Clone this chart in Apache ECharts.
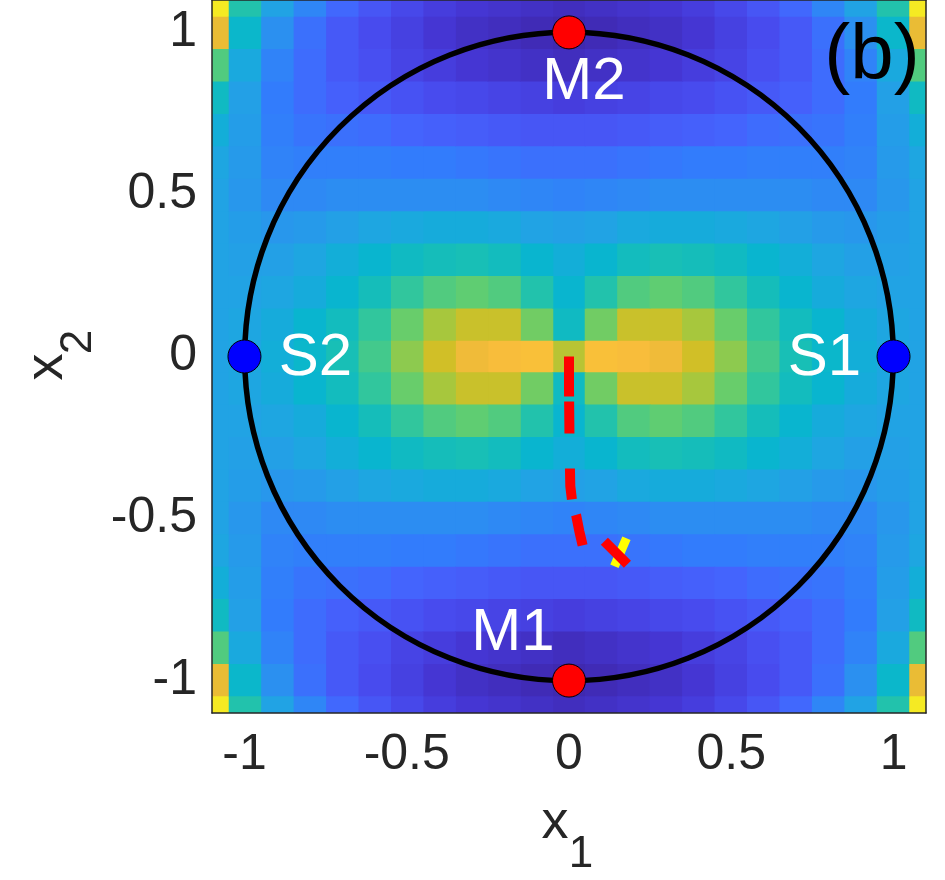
<!DOCTYPE html>
<html>
<head>
<meta charset="utf-8">
<script src="https://cdn.jsdelivr.net/npm/echarts@6/dist/echarts.min.js"></script>
<style>
html,body{margin:0;padding:0;background:#ffffff;}
#chart{width:945px;height:880px;}
</style>
</head>
<body>
<div id="chart"></div>
<script>
// ---------------- data ----------------
const xTickValues = [-1, -0.5, 0, 0.5, 1];
const yTickValues = [-1, -0.5, 0, 0.5, 1];

// sample grid of the background field (one quadrant, the picture is mirror-symmetric)
const quadX1 = [0, 0.1, 0.2, 0.3, 0.4, 0.5, 0.6, 0.7, 0.8, 0.9, 1.0, 1.1];
const quadX2 = [0, 0.1, 0.2, 0.3, 0.4, 0.5, 0.6, 0.7, 0.8, 0.9, 1.0, 1.1];
// rows: x2 = 0 ... 1.1, columns: x1 = 0 ... 1.1 (normalised colour level 0..1)
const fieldRow00 = [0.72, 0.83, 0.82, 0.80, 0.75, 0.67, 0.58, 0.50, 0.45, 0.41, 0.38, 0.37];
const fieldRow01 = [0.47, 0.64, 0.74, 0.74, 0.70, 0.63, 0.55, 0.48, 0.44, 0.40, 0.38, 0.37];
const fieldRow02 = [0.44, 0.52, 0.60, 0.62, 0.60, 0.55, 0.49, 0.44, 0.40, 0.38, 0.37, 0.37];
const fieldRow03 = [0.41, 0.44, 0.48, 0.50, 0.49, 0.47, 0.44, 0.41, 0.38, 0.36, 0.36, 0.37];
const fieldRow04 = [0.36, 0.37, 0.39, 0.40, 0.40, 0.39, 0.38, 0.36, 0.34, 0.33, 0.35, 0.37];
const fieldRow05 = [0.27, 0.28, 0.29, 0.30, 0.30, 0.30, 0.30, 0.30, 0.29, 0.29, 0.33, 0.37];
const fieldRow06 = [0.22, 0.22, 0.23, 0.24, 0.25, 0.25, 0.26, 0.26, 0.26, 0.27, 0.34, 0.38];
const fieldRow07 = [0.15, 0.15, 0.16, 0.17, 0.18, 0.19, 0.21, 0.22, 0.23, 0.26, 0.35, 0.41];
const fieldRow08 = [0.08, 0.09, 0.10, 0.11, 0.12, 0.14, 0.16, 0.18, 0.21, 0.25, 0.36, 0.47];
const fieldRow09 = [0.03, 0.04, 0.05, 0.06, 0.08, 0.10, 0.13, 0.16, 0.21, 0.27, 0.39, 0.60];
const fieldRow10 = [0.01, 0.02, 0.03, 0.04, 0.06, 0.09, 0.12, 0.16, 0.22, 0.31, 0.45, 0.79];
const fieldRow11 = [0.03, 0.04, 0.05, 0.06, 0.08, 0.11, 0.15, 0.20, 0.28, 0.37, 0.52, 0.94];
const fieldQuadrant = [fieldRow00, fieldRow01, fieldRow02, fieldRow03, fieldRow04, fieldRow05,
                       fieldRow06, fieldRow07, fieldRow08, fieldRow09, fieldRow10, fieldRow11];

const circleCenterRadius = [[0, 0, 1]];
const minimaPoints = [[0, -1, 'M1'], [0, 1, 'M2']];
const saddlePoints = [[1, 0, 'S1'], [-1, 0, 'S2']];

const pathX1 = [0, 0.000, 0.001, 0.002, 0.004, 0.010, 0.022, 0.032, 0.042];
const pathX2 = [0, -0.10, -0.20, -0.30, -0.40, -0.45, -0.49, -0.54, -0.583];

const redBarX1 = [0.109, 0.180];
const redBarX2 = [-0.570, -0.641];
const yellowBarX1 = [0.177, 0.140];
const yellowBarX2 = [-0.561, -0.647];

// ---------------- styles ----------------
const parula = ['#3e26a8', '#4537d5', '#484df0', '#4563fd', '#327cfc', '#2b91ef', '#20a5e3',
  '#08b5d0', '#18bfb6', '#37c897', '#63cd6f', '#9dc943', '#d1bf27', '#f8ba3d', '#fccf30',
  '#f5e924', '#f9fb14'];
const FONT = 'Liberation Sans, Arial, Helvetica, sans-serif';
const AXIS_COLOR = '#262626';
const cellHalf = 0.05;
const labelOffsets = { M1: [-56, -47], M2: [15, 50], S1: [-69, 2], S2: [71, 2] };

// ---------------- build ----------------
const heatData = [];
const seen = new Set();
quadX2.forEach((y, j) => {
  quadX1.forEach((x, i) => {
    [1, -1].forEach(sx => {
      [1, -1].forEach(sy => {
        const px = +(sx * x).toFixed(2) + 0;
        const py = +(sy * y).toFixed(2) + 0;
        const key = px + ',' + py;
        if (!seen.has(key)) {
          seen.add(key);
          heatData.push([px, py, fieldQuadrant[j][i]]);
        }
      });
    });
  });
});

const pathData = pathX1.map((x, i) => [x, pathX2[i]]);
const redBar = redBarX1.map((x, i) => [x, redBarX2[i]]);
const yellowBar = yellowBarX1.map((x, i) => [x, yellowBarX2[i]]);

function pointItems(arr, color) {
  return arr.map(p => ({
    value: [p[0], p[1], p[2]],
    itemStyle: { color: color, borderColor: '#000', borderWidth: 1, opacity: 1 },
    label: { offset: labelOffsets[p[2]] }
  }));
}

const chart = echarts.init(document.getElementById('chart'), null, { renderer: 'canvas' });

const pointLabel = {
  show: true, position: 'inside', color: '#ffffff', opacity: 1, fontSize: 60, fontFamily: FONT,
  textBorderWidth: 0, formatter: p => p.value[2]
};

const option = {
  animation: false,
  backgroundColor: '#ffffff',
  grid: { left: 212, right: 19, top: 0, bottom: 167, containLabel: false },
  visualMap: {
    show: false, type: 'continuous', min: 0, max: 1, dimension: 2, seriesIndex: 0,
    inRange: { color: parula }
  },
  xAxis: [{
    type: 'value', min: -1.1, max: 1.1, position: 'bottom', z: 10,
    axisLine: { show: true, onZero: false, lineStyle: { color: AXIS_COLOR, width: 1.5 } },
    axisTick: { show: false },
    splitLine: { show: false },
    axisLabel: {
      customValues: xTickValues, margin: 17, color: AXIS_COLOR, fontSize: 50, fontFamily: FONT,
      formatter: v => String(v)
    }
  }, {
    type: 'value', min: -1.1, max: 1.1, position: 'top', z: 10,
    axisLine: { show: true, onZero: false, lineStyle: { color: AXIS_COLOR, width: 1.5 } },
    axisTick: { show: false }, axisLabel: { show: false }, splitLine: { show: false }
  }],
  yAxis: [{
    type: 'value', min: -1.1, max: 1.1, position: 'left', z: 10,
    axisLine: { show: true, onZero: false, lineStyle: { color: AXIS_COLOR, width: 1.5 } },
    axisTick: { show: false },
    splitLine: { show: false },
    axisLabel: {
      customValues: yTickValues, margin: 15, color: AXIS_COLOR, fontSize: 50, fontFamily: FONT,
      formatter: v => String(v)
    }
  }, {
    type: 'value', min: -1.1, max: 1.1, position: 'right', z: 10,
    axisLine: { show: true, onZero: false, lineStyle: { color: AXIS_COLOR, width: 1.5 } },
    axisTick: { show: false }, axisLabel: { show: false }, splitLine: { show: false }
  }],
  series: [{
    type: 'custom',
    name: 'field',
    data: heatData,
    clip: true,
    silent: true,
    z: 1,
    encode: { x: 0, y: 1 },
    renderItem: function (params, api) {
      const x = api.value(0), y = api.value(1);
      const p0 = api.coord([x - cellHalf, y + cellHalf]);
      const p1 = api.coord([x + cellHalf, y - cellHalf]);
      return {
        type: 'rect',
        shape: { x: p0[0] - 0.5, y: p0[1] - 0.5, width: p1[0] - p0[0] + 1, height: p1[1] - p0[1] + 1 },
        style: { fill: api.visual('color') }
      };
    }
  }, {
    type: 'custom',
    name: 'circle',
    data: circleCenterRadius,
    silent: true,
    z: 3,
    encode: { x: 0, y: 1 },
    renderItem: function (params, api) {
      const c = api.coord([api.value(0), api.value(1)]);
      const s = api.size([api.value(2), api.value(2)]);
      return {
        type: 'circle',
        shape: { cx: c[0], cy: c[1], r: (s[0] + s[1]) / 2 },
        style: { fill: 'none', stroke: '#000000', lineWidth: 5.5 }
      };
    }
  }, {
    type: 'line',
    name: 'path',
    data: pathData,
    z: 4,
    silent: true,
    symbol: 'none',
    smooth: false,
    lineStyle: { color: '#ff0000', width: 10, opacity: 1, type: [40, 5, 32, 35, 31, 16, 33, 300], cap: 'butt' }
  }, {
    type: 'line',
    name: 'yellow',
    data: yellowBar,
    z: 4,
    silent: true,
    symbol: 'none',
    lineStyle: { color: '#ffff00', width: 9, opacity: 1, type: 'solid', cap: 'butt' }
  }, {
    type: 'line',
    name: 'red',
    data: redBar,
    z: 4,
    silent: true,
    symbol: 'none',
    lineStyle: { color: '#ff0000', width: 10, opacity: 1, type: 'solid', cap: 'butt' }
  }, {
    type: 'scatter',
    name: 'minima',
    data: pointItems(minimaPoints, '#ff0000'),
    z: 5,
    silent: true,
    symbol: 'circle',
    symbolSize: 33,
    itemStyle: { opacity: 1 },
    label: pointLabel
  }, {
    type: 'scatter',
    name: 'saddles',
    data: pointItems(saddlePoints, '#0000ff'),
    z: 5,
    silent: true,
    symbol: 'circle',
    symbolSize: 33,
    itemStyle: { opacity: 1 },
    label: pointLabel
  }],
  graphic: [
    { type: 'text', x: 872, y: 57, z: 100,
      style: { text: '(b)', font: '78px ' + FONT, fill: '#000000', textAlign: 'center', textVerticalAlign: 'middle', align: 'center', verticalAlign: 'middle' } },
    { type: 'text', x: 555, y: 823, z: 100,
      style: { text: 'x', font: '54px ' + FONT, fill: AXIS_COLOR, textAlign: 'center', textVerticalAlign: 'middle', align: 'center', verticalAlign: 'middle' } },
    { type: 'text', x: 581, y: 855, z: 100,
      style: { text: '1', font: '44px ' + FONT, fill: AXIS_COLOR, textAlign: 'center', textVerticalAlign: 'middle', align: 'center', verticalAlign: 'middle' } },
    { type: 'text', x: 47, y: 367, rotation: Math.PI / 2, z: 100,
      style: { text: 'x', font: '54px ' + FONT, fill: AXIS_COLOR, textAlign: 'center', textVerticalAlign: 'middle', align: 'center', verticalAlign: 'middle' } },
    { type: 'text', x: 79, y: 342, rotation: Math.PI / 2, z: 100,
      style: { text: '2', font: '44px ' + FONT, fill: AXIS_COLOR, textAlign: 'center', textVerticalAlign: 'middle', align: 'center', verticalAlign: 'middle' } }
  ]
};

chart.setOption(option);
</script>
</body>
</html>
